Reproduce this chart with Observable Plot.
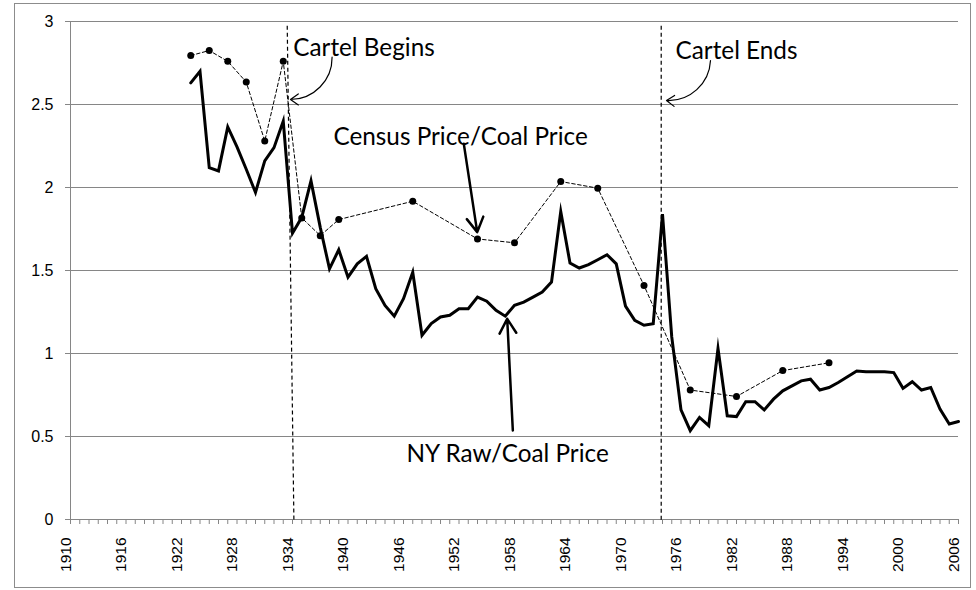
<!DOCTYPE html>
<html>
<head>
<meta charset="utf-8">
<script src="https://cdn.jsdelivr.net/npm/d3@7"></script>
<script src="https://cdn.jsdelivr.net/npm/@observablehq/plot@0.6"></script>
<style>
  html, body { margin: 0; padding: 0; background: #fff; }
  #wrap { position: relative; width: 976px; height: 590px; }
  #border { position: absolute; left: 14px; top: 3px; width: 957px; height: 585px; border: 1px solid #8c8c8c; pointer-events: none; box-sizing: border-box; }
</style>
</head>
<body>
<div id="wrap"><div id="border"></div></div>
<script>
// ---- Data ----
const nyYears = [1923,1924,1925,1926,1927,1928,1929,1930,1931,1932,1933,1934,1935,1936,1937,1938,1939,1940,1941,1942,1943,1944,1945,1946,1947,1948,1949,1950,1951,1952,1953,1954,1955,1956,1957,1958,1959,1960,1961,1962,1963,1964,1965,1966,1967,1968,1969,1970,1971,1972,1973,1974,1975,1976,1977,1978,1979,1980,1981,1982,1983,1984,1985,1986,1987,1988,1989,1990,1991,1992,1993,1994,1995,1996,1997,1998,1999,2000,2001,2002,2003,2004,2005,2006];
const nyValues = [2.63,2.70,2.12,2.10,2.365,2.245,2.11,1.97,2.16,2.24,2.40,1.725,1.82,2.04,1.76,1.51,1.625,1.46,1.54,1.585,1.39,1.29,1.225,1.33,1.49,1.11,1.18,1.22,1.23,1.27,1.27,1.34,1.315,1.26,1.225,1.29,1.31,1.34,1.37,1.43,1.855,1.545,1.515,1.535,1.565,1.595,1.54,1.285,1.20,1.17,1.18,1.84,1.10,0.66,0.535,0.615,0.565,1.03,0.625,0.62,0.71,0.71,0.66,0.725,0.775,0.805,0.835,0.845,0.78,0.795,0.825,0.86,0.895,0.89,0.89,0.89,0.885,0.79,0.83,0.78,0.795,0.665,0.575,0.59];

const censusYears = [1923,1925,1927,1929,1931,1933,1935,1937,1939,1947,1954,1958,1963,1967,1972,1977,1982,1987,1992];
const censusValues = [2.795,2.825,2.76,2.635,2.28,2.76,1.817,1.71,1.807,1.917,1.69,1.667,2.036,1.996,1.41,0.78,0.741,0.897,0.944];

const yTicks = [0,0.5,1,1.5,2,2.5,3];
const xLabelYears = [1910,1916,1922,1928,1934,1940,1946,1952,1958,1964,1970,1976,1982,1988,1994,2000,2006];
const xMinorYears = d3.range(1910, 2007);

// annotation text (data coordinates)
const labelTexts = ["Cartel Begins","Cartel Ends","Census Price/Coal Price","NY Raw/Coal Price"];
const labelX = [1934.08, 1975.41, 1938.43, 1946.32];
const labelY = [2.84, 2.822, 2.301, 0.3955];

// cartel boundary lines
const cartelX1 = [1933.43, 1973.86];
const cartelY1 = [2.975, 2.975];
const cartelX2 = [1934.15, 1973.86];
const cartelY2 = [0, -0.02];

// curved thin arrows
const thinArrowX1 = [1938.28, 1979.19];
const thinArrowY1 = [2.785, 2.765];
const thinArrowX2 = [1933.78, 1974.43];
const thinArrowY2 = [2.53, 2.524];

// straight thick arrows
const thickArrowX1 = [1952.52, 1957.82];
const thickArrowY1 = [2.263, 0.536];
const thickArrowX2 = [1953.97, 1957.21];
const thickArrowY2 = [1.731, 1.209];

// ---- Build tables ----
const ny = nyYears.map((y, i) => ({year: y, value: nyValues[i]}));
const census = censusYears.map((y, i) => ({year: y, value: censusValues[i]}));
const labels = labelTexts.map((t, i) => ({text: t, x: labelX[i], y: labelY[i]}));
const cartel = cartelX1.map((x, i) => ({x1: x, y1: cartelY1[i], x2: cartelX2[i], y2: cartelY2[i]}));
const thinArrows = thinArrowX1.map((x, i) => ({x1: x, y1: thinArrowY1[i], x2: thinArrowX2[i], y2: thinArrowY2[i]}));
const thickArrows = thickArrowX1.map((x, i) => ({x1: x, y1: thickArrowY1[i], x2: thickArrowX2[i], y2: thickArrowY2[i]}));

const grid = "#868686";
const tickFont = "Liberation Sans, Arial, sans-serif";
const xTickLen = 5 / 166;   // 5px in y units
const yTickLen = 5 / 9.25;  // 5px in x units

const chart = Plot.plot({
  width: 976,
  height: 590,
  marginLeft: 70,
  marginRight: 18,
  marginTop: 21,
  marginBottom: 71,
  x: {domain: [1910, 2006], axis: null},
  y: {domain: [0, 3], axis: null},
  marks: [
    Plot.gridY(yTicks, {stroke: grid, strokeOpacity: 1, strokeWidth: 1}),
    Plot.ruleX([1910], {y1: 0, y2: 3, stroke: grid, strokeWidth: 1}),
    Plot.ruleY(yTicks, {x1: 1910 - yTickLen, x2: 1910, stroke: grid, strokeWidth: 1}),
    Plot.ruleX(xMinorYears, {y1: 0, y2: -xTickLen, stroke: grid, strokeWidth: 1}),
    Plot.text(yTicks, {y: d => d, frameAnchor: "left", dx: -17, textAnchor: "end", text: d => String(d), fontSize: 16, fontFamily: tickFont, fill: "#000"}),
    Plot.text(xLabelYears, {x: d => d, frameAnchor: "bottom", dy: 18, rotate: -90, textAnchor: "end", text: d => String(d), fontSize: 15.5, fontFamily: tickFont, fill: "#000"}),
    Plot.link(cartel, {x1: "x1", y1: "y1", x2: "x2", y2: "y2", stroke: "#000", strokeWidth: 1.2, strokeDasharray: "4,3"}),
    Plot.line(census, {x: "year", y: "value", stroke: "#000", strokeWidth: 1, strokeDasharray: "3.5,2.5"}),
    Plot.dot(census, {x: "year", y: "value", r: 3.5, fill: "#000", stroke: "none"}),
    Plot.line(ny, {x: "year", y: "value", stroke: "#000", strokeWidth: 3, strokeLinejoin: "miter", strokeMiterlimit: 10}),
    Plot.arrow(thinArrows, {x1: "x1", y1: "y1", x2: "x2", y2: "y2", bend: 45, stroke: "#000", strokeWidth: 1.2, headLength: 12, headAngle: 70}),
    Plot.arrow(thickArrows, {x1: "x1", y1: "y1", x2: "x2", y2: "y2", stroke: "#000", strokeWidth: 2.5, headLength: 10, headAngle: 60}),
    Plot.text(labels, {x: "x", y: "y", text: "text", textAnchor: "start", fontSize: 24.3, fill: "#000", fontFamily: "Lato, sans-serif"})
  ]
});
chart.style.position = "absolute";
chart.style.left = "0px";
chart.style.top = "0px";
chart.style.background = "transparent";
chart.style.overflow = "visible";
document.getElementById("wrap").prepend(chart);
</script>
</body>
</html>
